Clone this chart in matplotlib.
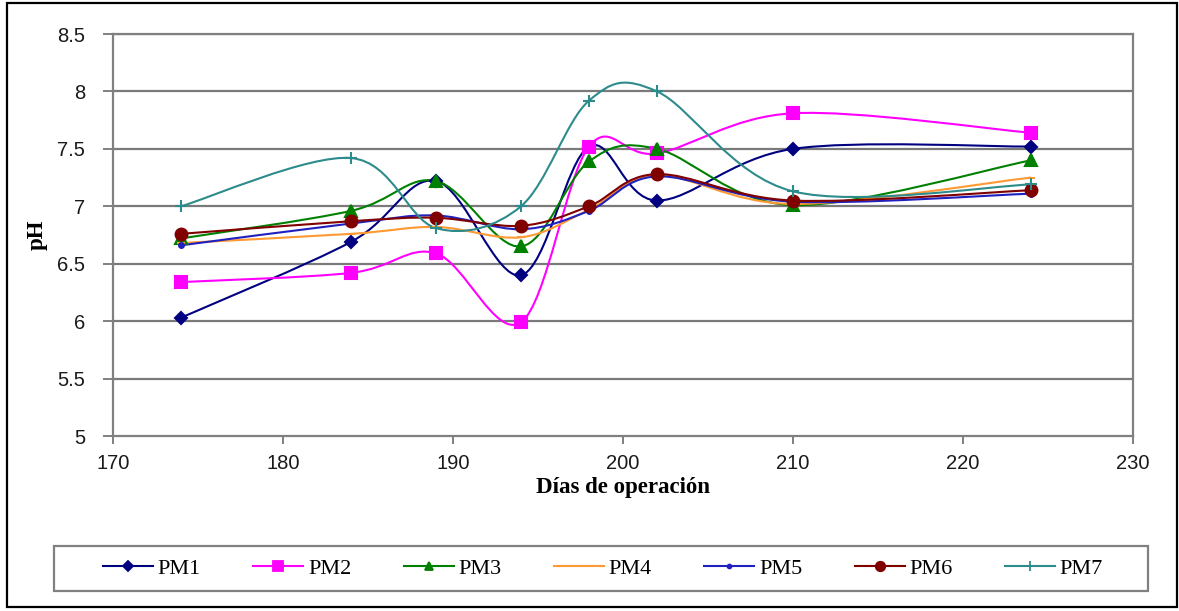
import matplotlib
matplotlib.use("Agg")
import matplotlib.pyplot as plt
from matplotlib.path import Path
from matplotlib.patches import PathPatch, Rectangle
from matplotlib.lines import Line2D

# Operating days and pH of each reactor
dias = [174, 184, 189, 194, 198, 202, 210, 224]
pm1 = [6.03, 6.69, 7.22, 6.40, 7.52, 7.05, 7.50, 7.52]
pm2 = [6.34, 6.42, 6.59, 5.99, 7.52, 7.46, 7.81, 7.64]
pm3 = [6.72, 6.96, 7.22, 6.65, 7.39, 7.50, 7.01, 7.40]
pm4 = [6.68, 6.76, 6.82, 6.73, 6.97, 7.27, 7.02, 7.25]
pm5 = [6.66, 6.85, 6.92, 6.80, 6.96, 7.26, 7.04, 7.11]
pm6 = [6.76, 6.87, 6.90, 6.83, 7.00, 7.28, 7.05, 7.14]
pm7 = [7.00, 7.42, 6.81, 7.00, 7.92, 8.00, 7.13, 7.19]

nombres = ["PM1", "PM2", "PM3", "PM4", "PM5", "PM6", "PM7"]
series = [pm1, pm2, pm3, pm4, pm5, pm6, pm7]

x_ticks = [170, 180, 190, 200, 210, 220, 230]
y_ticks = [5, 5.5, 6, 6.5, 7, 7.5, 8, 8.5]
y_ticklabels = ["5", "5.5", "6", "6.5", "7", "7.5", "8", "8.5"]

estilos = [
    dict(color="#000080", marker="D", ms=6.5),
    dict(color="#FF00FF", marker="s", ms=8.5),
    dict(color="#008000", marker="^", ms=8),
    dict(color="#FF9933", marker="_", ms=6),
    dict(color="#2020C0", marker="o", ms=3.5),
    dict(color="#800000", marker="o", ms=8.5),
    dict(color="#2E8B8B", marker="+", ms=9),
]


def smooth_path(xs, ys):
    """Cubic Bezier path through the points (Excel-style smoothed line)."""
    pts = list(zip(xs, ys))
    n = len(pts)
    verts = [pts[0]]
    codes = [Path.MOVETO]
    for i in range(n - 1):
        p0 = pts[max(i - 1, 0)]
        p1 = pts[i]
        p2 = pts[i + 1]
        p3 = pts[min(i + 2, n - 1)]
        c1 = (p1[0] + (p2[0] - p0[0]) / 6.0, p1[1] + (p2[1] - p0[1]) / 6.0)
        c2 = (p2[0] - (p3[0] - p1[0]) / 6.0, p2[1] - (p3[1] - p1[1]) / 6.0)
        verts += [c1, c2, p2]
        codes += [Path.CURVE4] * 3
    return Path(verts, codes)


W, H = 1179, 611
fig = plt.figure(figsize=(W / 100, H / 100), dpi=100)
ax = fig.add_axes([113 / W, 1 - 436 / H, (1133 - 113) / W, (436 - 34) / H])

grid_c = "#7a7a7a"
for v in y_ticks[1:]:
    ax.axhline(v, color=grid_c, lw=1.6, zorder=1)

lw = 1.5
for ys, st in zip(series, estilos):
    ax.add_patch(PathPatch(smooth_path(dias, ys), fill=False,
                           edgecolor=st["color"], lw=lw, zorder=3))
for ys, st in zip(series, estilos):
    ax.plot(dias, ys, linestyle="none", marker=st["marker"], ms=st["ms"],
            mec=st["color"], mfc=st["color"], mew=1.5, zorder=4)

ax.set_xlim(170, 230)
ax.set_ylim(5, 8.5)
ax.set_xticks(x_ticks)
ax.set_yticks(y_ticks)
ax.set_yticklabels(y_ticklabels)
for s in ax.spines.values():
    s.set_color("#808080")
    s.set_linewidth(1.6)
ax.tick_params(axis="both", direction="out", color="#808080", width=1.4,
               labelsize=14.5, labelcolor="#1a1a1a")
ax.tick_params(axis="y", length=7, pad=13)
ax.tick_params(axis="x", length=6, pad=7)
for lab in ax.get_xticklabels() + ax.get_yticklabels():
    lab.set_family("Liberation Sans")

ax.set_xlabel("Días de operación", family="Liberation Serif", weight="bold",
              fontsize=16.5, labelpad=3)
ax.set_ylabel("pH", family="Liberation Serif", weight="bold", fontsize=16.5,
              labelpad=7)

handles = [Line2D([], [], color=st["color"], lw=lw, marker=st["marker"],
                  ms=st["ms"] * 0.8, mec=st["color"], mfc=st["color"], mew=1.3)
           for st in estilos]
leg = fig.legend(handles, nombres, loc="center",
                 bbox_to_anchor=(603 / W, 1 - 568.5 / H),
                 ncol=7, frameon=False,
                 handlelength=2.25, handletextpad=0.2, columnspacing=2.37,
                 borderaxespad=0,
                 prop={"family": "Liberation Serif", "size": 16})

# Legend box
fig.patches.append(Rectangle((54 / W, 1 - 591 / H), (1148 - 54) / W, 45 / H,
                             transform=fig.transFigure, fill=False,
                             edgecolor="#808080", lw=1.6))

# Outer chart frame
fig.patches.append(Rectangle((7 / W, 4 / H), 1170 / W, 604 / H,
                             transform=fig.transFigure, fill=False,
                             edgecolor="black", lw=1.6))

fig.savefig("out.png", dpi=100)
